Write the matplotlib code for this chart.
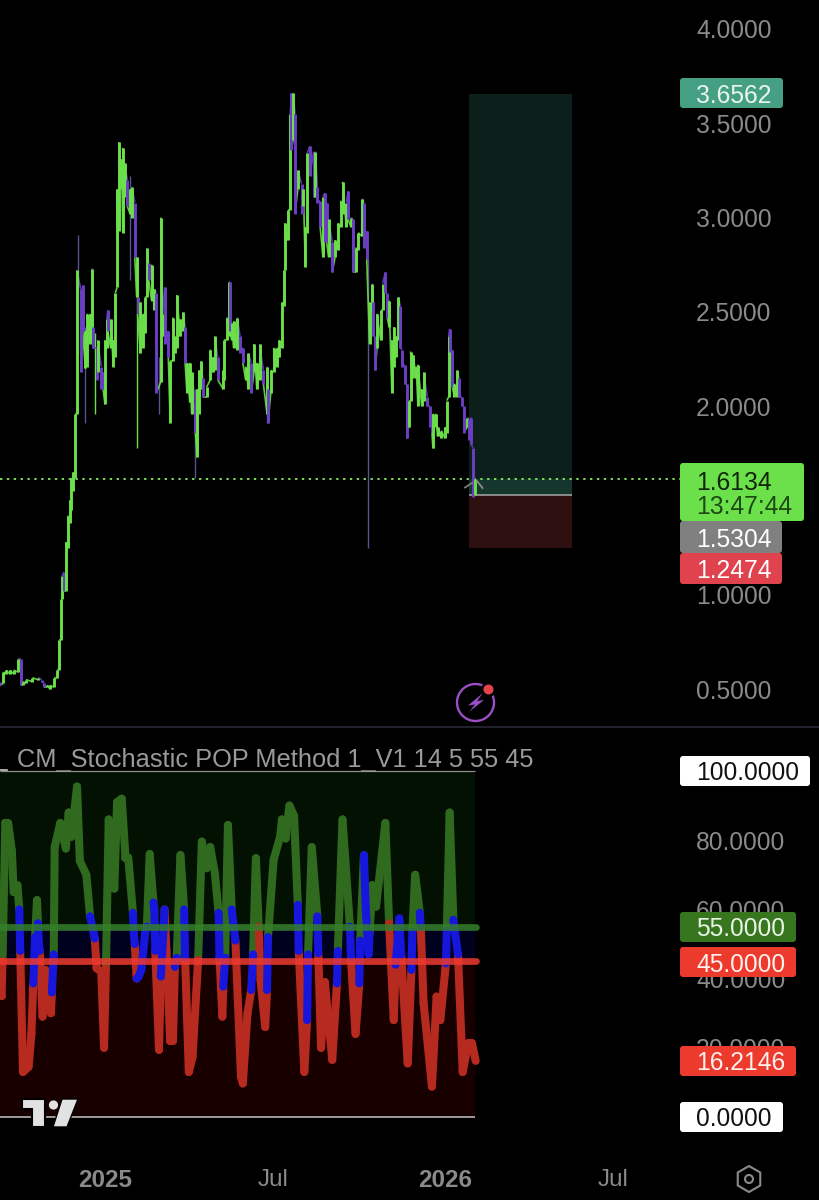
import matplotlib
matplotlib.use("Agg")
import matplotlib.pyplot as plt
from matplotlib.collections import LineCollection
from matplotlib.patches import FancyBboxPatch, Rectangle, Circle, Polygon, RegularPolygon

plt.rcParams['font.family'] = ['Liberation Sans', 'DejaVu Sans']

# ---------- data (days since 2025-01-01, prices) ----------
bar_day = [-113,-109,-106,-102,-98,-93,-90,-88,-85,-78,-72,-68,-65,-62,-59,-55,-52,-49,-47,-46,-44,-42,-40,-38,-36,-34,-32,-30,
           -26,-24,-21,-19,-16,-14,-13,-9,-8,-4,-2,0,2,3,6,9,11,13,15,18,19,21,24,27,29,32,34,35,38,41,43,45,47,50,53,55,
           60,62,64,68,70,73,75,77,81,84,86,88,91,93,97,99,101,103,105,109,113,116,118,121,127,128,131,133,134,136,138,142,
           145,148,151,154,157,160,163,166,170,174,175,178,181,185,187,190,192,193,196,199,200,202,204,207,211,213,215,217,
           220,224,226,228,231,234,236,238,240,244,247,250,253,255,259,261,264,266,269,272,276,278,281,284,287,288,290,292,
           296,298,301,303,305,308,310,312,315,317,319,322,324,326,328,331,334,336,340,342,346,349,351,352,355,357,361,365,
           367,369,370,373,375,378,380,383,385,389,391,393,395,397]
bar_open = [.54,.53,.58,.58,.58,.59,.66,.52,.53,.54,.55,.55,.53,.51,.50,.51,.56,.60,.76,.98,1.12,1.02,1.25,1.38,1.45,1.55,1.62,1.96,
            2.62,2.64,2.20,2.21,2.33,2.35,2.42,2.31,2.18,2.21,2.18,2.01,2.31,2.51,2.31,2.21,2.26,2.63,2.93,3.15,2.92,3.11,3.20,3.02,3.00,3.08,2.58,2.58,2.28,2.31,2.39,2.58,2.76,2.56,2.51,2.60,
            2.13,2.37,2.63,2.40,1.91,2.24,2.28,2.31,2.37,2.40,2.42,2.07,2.02,1.96,2.02,1.73,1.96,2.09,2.15,2.05,2.14,2.18,2.19,2.26,2.09,2.14,2.35,2.37,2.66,2.35,2.31,2.30,
            2.37,2.31,2.14,2.09,2.23,2.18,2.09,2.14,2.19,1.96,2.09,2.07,2.18,2.21,2.26,2.31,2.53,2.72,2.88,3.04,3.66,3.41,3.55,3.15,3.18,3.06,2.74,2.92,
            3.38,3.35,3.11,3.16,3.09,2.79,3.13,3.08,2.79,2.87,2.79,2.83,2.95,3.02,2.95,3.14,2.95,2.99,2.71,2.83,2.90,3.08,2.93,2.33,2.51,2.55,2.37,2.31,
            2.35,2.51,2.71,2.60,2.42,2.07,2.21,2.26,2.35,2.53,2.30,2.22,2.12,1.89,2.03,2.15,2.15,2.00,2.00,2.03,2.05,2.00,1.94,1.78,1.89,1.84,1.83,1.83,
            1.86,2.05,2.41,2.30,2.05,2.05,2.15,2.05,2.00,1.89,1.93,1.94,1.78,1.53]
bar_close = [.52,.59,.60,.60,.60,.66,.52,.54,.55,.56,.56,.54,.51,.52,.52,.56,.60,.76,.98,1.10,1.02,1.28,1.42,1.50,1.62,1.65,1.96,2.72,
             2.18,2.40,2.40,2.49,2.49,2.73,2.31,2.14,2.35,2.09,2.09,2.35,2.46,2.40,2.46,2.35,2.60,3.15,3.40,3.31,3.37,3.29,3.06,3.15,3.16,2.79,2.79,2.49,2.55,2.49,2.58,2.84,2.67,2.75,2.62,2.07,
             3.00,2.49,2.33,2.26,2.24,2.47,2.37,2.59,2.46,2.50,2.23,2.23,2.23,2.18,1.86,2.09,2.19,2.24,2.05,2.10,2.30,2.26,2.37,2.14,2.19,2.35,2.47,2.66,2.40,2.44,2.45,2.47,
             2.28,2.23,2.21,2.28,2.07,2.33,2.23,2.33,2.12,2.21,1.91,2.19,2.31,2.31,2.35,2.55,2.72,2.97,3.04,3.55,3.36,3.66,3.02,3.25,3.02,3.15,2.95,3.34,
             3.22,3.11,3.35,3.08,2.95,3.11,2.87,2.87,2.99,2.71,2.88,2.97,3.09,3.19,3.08,2.99,3.00,2.71,2.84,2.92,3.10,2.84,2.78,2.55,2.65,2.37,2.19,2.49,
             2.51,2.65,2.60,2.47,2.56,2.35,2.42,2.37,2.58,2.31,2.21,2.12,1.83,2.03,2.29,2.27,2.21,2.22,2.09,2.18,2.00,1.89,1.86,1.96,1.96,1.89,1.87,1.89,
             2.03,2.37,2.29,2.10,2.12,2.19,2.05,2.00,1.86,1.94,1.82,1.80,1.52,1.6134]

wick_day = [-29,-21,-11,27,34,58,97,174,282,324,352]
wick_high = [2.91,2.42,2.39,3.22,2.79,2.26,2.09,2.21,2.78,2.12,1.96]
wick_low = [2.28,1.91,1.96,2.67,1.78,1.96,1.62,1.91,1.25,1.83,1.78]
wick_bull = [False,False,True,False,True,False,False,False,False,False,True]

last_price = 1.6134
target_price = 3.6562
entry_price = 1.5304
stop_price = 1.2474
position_start = 391
position_end = 501

stoch_day = [-113,-111,-110, -107,-104,-100,-98,-94,-92, -91, -88,-82,-79,-77, -75, -73,-72, -71,-70,
             -67,-64,-61,-58,-57, -55, -54,-48,-42,-39,-36,-30,-27,-20,-16, -12,-11, -9,-4,-1,1,
             4,10,13,18,22,25,30, 31,32, 34, 36,39,43,45, 48,52, 53,54, 58,60, 64, 66,70,73,75, 77, 81,85, 86,
             90,94,100, 104,109,113,118,122, 123, 126,127, 129, 132,136, 140, 146,148,153,157, 159, 162,165,
             167,172,174, 175, 181,188,190,194,198,203,207, 208, 214,217, 218, 222,228, 229, 232,236,244,249, 250,
             255,263, 264, 269,273, 274, 278, 280,283,284, 287,291,301,305, 310,312, 316,318, 325,329, 330, 333,338,
             339, 342,351,356,360,366, 367, 370,374, 379, 384,390,394,398]
stoch_k = [35,35,45, 85,85,77,65,67,60, 48, 13,14.5,24,38.6, 52, 62.7,56, 50,48,
           29,42.5,35,30,36, 47, 78,85,77.6,88,81,95.5,74,70,58, 53,51.6, 43,42,20,43,
           86,66,91,92,75,75,59, 53,50, 40, 40.5,42.5,53,55, 76,62, 60,48, 19.4,40.6, 60, 48,22,22,43.4, 46, 75.7,60, 46,
           13,17.4,45.4, 79.6,71.9,78,70.4,59, 46, 29,37.7, 46, 84.4,60, 51, 11.7,9.7,30,36.7, 47, 74.8,55,
           39.6,26,36.7, 52, 74.3,81,86,80.5,90,87,61.3, 48, 13,28, 47, 78,58, 47.3, 20,39,16.5,38.6, 48,
           86,55, 46, 24,38.6, 51, 75.7, 60,47,53, 67,60.8,85,56, 28,44, 57.4,46.8, 15.5,42.5, 53.6, 70,59,
           55, 33,8.8,34.8,28,44.4, 54, 88,57, 47, 13,21.3,21.3,16.2146]
stoch_zone = ("rrr" "gggggg" "b" "rrrr" "b" "gg" "bb"
              "rrrrr" "b" "ggggggggg" "bb" "rrrr"
              "ggggggg" "bb" "r" "bbbb" "gg" "bb" "rr" "b" "rrrr" "b" "gg" "b"
              "rrr" "ggggg" "b" "rr" "b" "gg" "b" "rrrr" "b" "gg"
              "rrr" "b" "ggggggg" "b" "rr" "b" "gg" "b" "rrrr" "b"
              "gg" "b" "rr" "b" "g" "bbb" "gggg" "rr" "bb" "rr" "b" "gg"
              "b" "rrrrr" "b" "gg" "b" "rrrr")

price_ticks = [4.0, 3.5, 3.0, 2.5, 2.0, 1.0, 0.5]
stoch_ticks = [80, 60, 40, 20]
overbought = 55
oversold = 45
time_days = [0, 181, 365, 546]
time_labels = ['2025', 'Jul', '2026', 'Jul']
time_bold = [True, False, True, False]
indicator_name = "CM_Stochastic POP Method 1_V1 14 5 55 45"

# ---------- colours ----------
BG = '#000000'
BULL = '#6ce04a'
BEAR = '#6a3fc4'
WICK = '#55558f'
GREY = '#8a8a8a'
ZONE = {'g': '#2f6a1f', 'r': '#b62a1f', 'b': '#1616dc'}

W, H = 820, 1200
PANE_SPLIT = 727
fig = plt.figure(figsize=(W / 100, H / 100), dpi=100, facecolor=BG)
ax = fig.add_axes([0, 1 - PANE_SPLIT / H, 1, PANE_SPLIT / H], facecolor=BG)
ax2 = fig.add_axes([0, 0, 1, 1 - (PANE_SPLIT + 1) / H], facecolor=BG, sharex=ax)
top = fig.add_axes([0, 0, 1, 1], facecolor='none', zorder=10)
top.set_xlim(0, W); top.set_ylim(H, 0); top.axis('off')

xlim = (-112.7, 767.6)
ax.set_xlim(*xlim)
ax.set_ylim(4 - (PANE_SPLIT - 29) / 188.6, 4 + 29 / 188.6)
ax2.set_ylim(-(H - 1117) / 3.46, (1117 - PANE_SPLIT - 1) / 3.46)

for a in (ax, ax2):
    for s in a.spines.values():
        s.set_visible(False)

# ---------- price pane ----------
ax.add_patch(Rectangle((position_start, entry_price), position_end - position_start,
                       target_price - entry_price, fc='#0c1f1a', ec='none', zorder=1))
ax.add_patch(Rectangle((position_start, entry_price), position_end - position_start,
                       last_price - entry_price, fc='#15362d', ec='none', zorder=1.1))
ax.add_patch(Rectangle((position_start, stop_price), position_end - position_start,
                       entry_price - stop_price, fc='#2e1010', ec='none', zorder=1))
ax.hlines(entry_price, position_start, position_end, color='#a8a8a8', lw=1.1, zorder=2)
ax.hlines(last_price, xlim[0], 617, color='#86e868', lw=1.3, ls=(0, (1.3, 2.5)), zorder=2)

ax.vlines(wick_day, wick_low, wick_high,
          colors=[BULL if b else WICK for b in wick_bull], lw=1.0, zorder=3)
bar_colors = [BULL if c >= o else BEAR for o, c in zip(bar_open, bar_close)]
links = [[(bar_day[i], bar_close[i]), (bar_day[i + 1], bar_open[i + 1])] for i in range(len(bar_day) - 1)]
ax.add_collection(LineCollection(links, colors=bar_colors[1:], linewidths=1.2, alpha=0.9, zorder=3.5))
ax.vlines(bar_day, bar_open, bar_close, colors=bar_colors, lw=2.1, zorder=4)

ax.set_yticks(price_ticks)
ax.set_yticklabels([f'{t:.4f}' for t in price_ticks])
ax.yaxis.tick_right()
ax.tick_params(axis='y', direction='in', length=0, pad=-(W - 696) * 0.72,
               labelsize=17.7, labelcolor=GREY)
ax.tick_params(axis='x', length=0, labelbottom=False)

# ---------- stochastic pane ----------
band_end = 397
ax2.add_patch(Rectangle((xlim[0], overbought), band_end - xlim[0], 100 - overbought, fc='#021102', ec='none', zorder=1))
ax2.add_patch(Rectangle((xlim[0], oversold), band_end - xlim[0], overbought - oversold, fc='#00001f', ec='none', zorder=1))
ax2.add_patch(Rectangle((xlim[0], 0), band_end - xlim[0], oversold, fc='#190000', ec='none', zorder=1))
ax2.hlines([100], xlim[0], band_end, color='#8e8e8e', lw=0.9, zorder=2)
ax2.hlines([0], xlim[0], band_end, color='#c4c4c4', lw=1.1, zorder=2)

segments = [[(stoch_day[i], stoch_k[i]), (stoch_day[i + 1], stoch_k[i + 1])]
            for i in range(len(stoch_day) - 1)]
seg_zone = stoch_zone[1:]
for zone in 'grb':
    part = [s for s, z in zip(segments, seg_zone) if z == zone]
    ax2.add_collection(LineCollection(part, colors=ZONE[zone], linewidths=5.8,
                                      capstyle='round', joinstyle='round', zorder=3))
ax2.hlines(overbought, xlim[0], 398, color='#35802a', lw=4.8, alpha=0.85, zorder=4, capstyle='round')
ax2.hlines(oversold, xlim[0], 398, color='#ee3a30', lw=4.8, alpha=0.85, zorder=4, capstyle='round')

ax2.set_yticks(stoch_ticks)
ax2.set_yticklabels([f'{t:.4f}' for t in stoch_ticks])
ax2.yaxis.tick_right()
ax2.tick_params(axis='y', direction='in', length=0, pad=-(W - 696) * 0.72,
                labelsize=17.7, labelcolor=GREY)
ax2.set_xticks(time_days)
ax2.set_xticklabels(time_labels)
ax2.tick_params(axis='x', direction='in', length=0, pad=-(H - 1169) * 0.72,
                labelsize=17.5, labelcolor=GREY)
for lab, bold in zip(ax2.get_xticklabels(), time_bold):
    lab.set_fontweight('bold' if bold else 'normal')

# ---------- chrome (pixel coordinates) ----------
top.plot([0, W], [PANE_SPLIT, PANE_SPLIT], color='#2b2a36', lw=1.2)
top.text(17, 760, indicator_name, color='#9a9a9a', fontsize=18.3, va='center', ha='left')
top.plot([0, 7], [770, 770], color='#c8c8c8', lw=1.2)


def badge(x0, x1, y0, y1, fc, lines, tx=696):
    top.add_patch(FancyBboxPatch((x0 + 2, y0 + 2), x1 - x0 - 4, y1 - y0 - 4,
                                 boxstyle='round,pad=2,rounding_size=3', fc=fc, ec='none'))
    for yy, txt, col in lines:
        top.text(tx, yy, txt, color=col, fontsize=17.7, va='center_baseline', ha='left')


badge(680, 783, 78, 108, '#45a083', [(93.5, '3.6562', '#eaf5f0')])
badge(680, 804, 463, 521, '#6ce04a', [(480, '1.6134', '#10240a'), (505, '13:47:44', '#1d4a12')])
badge(680, 782, 521, 553, '#808080', [(537.5, '1.5304', '#ffffff')])
badge(680, 782, 553, 584, '#e0434e', [(568.5, '1.2474', '#ffffff')])
badge(680, 810, 756, 786, '#ffffff', [(771, '100.0000', '#111111')])
badge(680, 796, 912, 942, '#37761f', [(927, '55.0000', '#e8f3e4')])
badge(680, 796, 947, 977, '#ec3a2c', [(962, '45.0000', '#fff0ee')])
badge(680, 796, 1046, 1076, '#ec3a2c', [(1061, '16.2146', '#fff0ee')])
badge(680, 783, 1102, 1132, '#ffffff', [(1117, '0.0000', '#111111')])

# chevron at the last bar
top.plot([465, 472], [487.5, 483], color='#7d7d7d', lw=1.3)
top.plot([477, 482.5], [481, 488], color='#8c8c8c', lw=1.3)

# bolt icon
top.add_patch(Circle((475.5, 702.5), 18.5, fc='none', ec='#9a50c4', lw=1.7))
top.add_patch(Polygon([(483, 693), (468, 705.5), (475, 704.5), (469, 712), (484, 700), (477, 701)],
                      closed=True, fc='#9a50c4', ec='none'))
top.add_patch(Circle((488.5, 689.5), 7.5, fc='#000000', ec='none'))
top.add_patch(Circle((488.5, 689.5), 5, fc='#e2434d', ec='none'))

# TradingView logo
logo = '#e2e2e2'
top.add_patch(Polygon([(22, 1099), (45, 1099), (45, 1127), (32, 1127), (32, 1109), (22, 1109)],
                      closed=True, fc=logo, ec='#000000', lw=1.5))
top.add_patch(Circle((53.5, 1105), 4.6, fc=logo, ec='none'))
top.add_patch(Polygon([(62, 1099), (78, 1099), (67, 1127), (53, 1127)], closed=True, fc=logo, ec='#000000', lw=1))

# settings hexagon
top.add_patch(RegularPolygon((749, 1179), 6, radius=13, fc='none', ec=GREY, lw=1.5))
top.add_patch(Circle((749, 1179), 4, fc='none', ec=GREY, lw=1.5))

fig.savefig('out.png', dpi=100, facecolor=BG)
